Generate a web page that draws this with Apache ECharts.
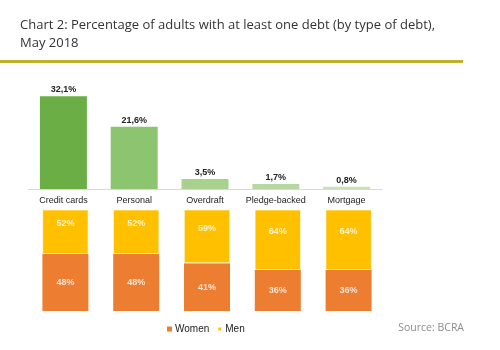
<!DOCTYPE html>
<html>
<head>
<meta charset="utf-8">
<script src="https://cdn.jsdelivr.net/npm/echarts@6/dist/echarts.min.js"></script>
<style>
  html, body { margin: 0; padding: 0; background: #fff; }
  #chart { width: 500px; height: 350px; }
</style>
</head>
<body>
<div id="chart"></div>
<script>
// Debt types and shares (percent of adults), May 2018
const categories = ['Credit cards', 'Personal', 'Overdraft', 'Pledge-backed', 'Mortgage'];
const debtShare = [32.1, 21.6, 3.5, 1.7, 0.8];
const debtLabels = ['32,1%', '21,6%', '3,5%', '1,7%', '0,8%'];
// Split of debtors by gender (percent)
const womenShare = [48, 48, 41, 36, 36];
const menShare = [52, 52, 59, 64, 64];
const legendNames = ['Women', 'Men'];

const barGreens = ['#6aae45', '#8dc470', '#a9d18e', '#b7d7a2', '#c9e1bb'];
const labelFont = 'Liberation Sans, Arial, sans-serif';

const chart = echarts.init(document.getElementById('chart'), null, { renderer: 'canvas' });

chart.setOption({
  animation: false,
  backgroundColor: '#fff',
  title: {
    text: 'Chart 2: Percentage of adults with at least one debt (by type of debt),\nMay 2018',
    left: 15,
    top: 11,
    textStyle: {
      fontFamily: 'Open Sans, sans-serif',
      fontSize: 13,
      fontWeight: 'normal',
      color: '#333',
      lineHeight: 18
    }
  },
  graphic: [
    {
      type: 'rect',
      shape: { x: 0, y: 60, width: 463, height: 3 },
      style: { fill: '#bfb22a' },
      silent: true
    },
    {
      type: 'text',
      right: 36,
      top: 323,
      style: {
        text: 'Source: BCRA',
        fill: '#8c8c8c',
        font: '10.5px "Open Sans", sans-serif'
      }
    }
  ],
  legend: {
    data: legendNames,
    left: 162,
    top: 319,
    icon: 'rect',
    itemWidth: 5,
    itemHeight: 5,
    itemGap: 7,
    textStyle: { fontFamily: labelFont, fontSize: 10, color: '#222', padding: [0, 0, 0, -2] }
  },
  grid: [
    { left: 28, width: 354, top: 88, height: 101 },
    { left: 30, width: 354, top: 210, height: 101 }
  ],
  xAxis: [
    {
      type: 'category',
      gridIndex: 0,
      data: categories,
      axisLine: { lineStyle: { color: '#d9d9d9', width: 1 } },
      axisTick: { show: false },
      axisLabel: { margin: 7, fontFamily: labelFont, fontSize: 9, color: '#222', interval: 0 }
    },
    {
      type: 'category',
      gridIndex: 1,
      data: categories,
      show: false
    }
  ],
  yAxis: [
    { type: 'value', gridIndex: 0, min: 0, max: 35, show: false },
    { type: 'value', gridIndex: 1, min: 5, max: 81, show: false }
  ],
  series: [
    {
      type: 'bar',
      xAxisIndex: 0,
      yAxisIndex: 0,
      barWidth: 47,
      data: debtShare.map((v, i) => ({ value: v, itemStyle: { color: barGreens[i] } })),
      label: {
        show: true,
        position: 'top',
        distance: 2,
        formatter: p => debtLabels[p.dataIndex],
        fontFamily: labelFont,
        fontSize: 9,
        fontWeight: 'bold',
        color: '#222'
      }
    },
    {
      name: 'Women',
      type: 'bar',
      xAxisIndex: 1,
      yAxisIndex: 1,
      stack: 'gender',
      barWidth: 46,
      itemStyle: { color: '#ed7d31' },
      data: womenShare,
      label: {
        show: true,
        position: 'inside',
        formatter: '{c}%',
        fontFamily: labelFont,
        fontSize: 9,
        fontWeight: 'bold',
        color: '#fbe5d6'
      }
    },
    {
      name: 'Men',
      type: 'bar',
      xAxisIndex: 1,
      yAxisIndex: 1,
      stack: 'gender',
      barWidth: 46,
      itemStyle: { color: '#ffc000', borderColor: '#fff', borderWidth: 0.6 },
      data: menShare,
      label: {
        show: true,
        position: 'inside',
        offset: [0, -8],
        formatter: '{c}%',
        fontFamily: labelFont,
        fontSize: 9,
        fontWeight: 'bold',
        color: '#fff2cc'
      }
    }
  ]
});
</script>
</body>
</html>
